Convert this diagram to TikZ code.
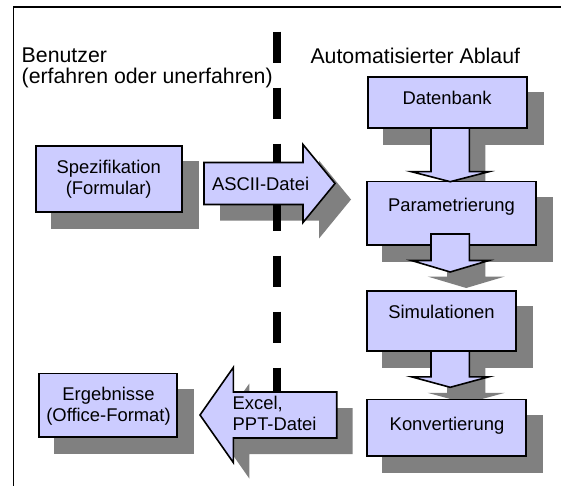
\documentclass[tikz,border=0pt]{standalone}
\usepackage{fontspec}
\setmainfont{Liberation Sans}
\usetikzlibrary{calc}
\definecolor{boxfill}{HTML}{CCCCFF}
\definecolor{shadowgray}{HTML}{808080}
\pgfdeclarelayer{bglayer}
\pgfdeclarelayer{shadowlayer}
\pgfdeclarelayer{dashlayer}
\pgfsetlayers{bglayer,shadowlayer,dashlayer,main}
\tikzset{
  box/.style={draw=black, fill=boxfill, line width=1.6pt, rectangle, inner sep=0pt, outer sep=0pt, anchor=north west},
  blockarrow/.style={draw=black, fill=boxfill, line width=1.6pt},
  shadowfill/.style={fill=shadowgray, transform canvas={xshift=16pt,yshift=-16pt}},
  txt/.style={font=\fontsize{18.4}{21}\selectfont, inner sep=0pt, outer sep=0pt},
  hdr/.style={font=\fontsize{21.3}{21}\selectfont, inner sep=0pt, outer sep=0pt, align=left, anchor=base west},
  dashline/.style={line width=7.7pt, dash pattern=on 31pt off 25pt, black},
  frameline/.style={line width=1.6pt, black}
}
% horizontal block arrow: start, tip, head-base offset, shaft half height, head half height
\newcommand\blockarrowH[5]{%
  \begin{pgfonlayer}{shadowlayer}
    \fill[shadowfill] ($(#1)+(0,-#4)$) -- ($(#2)+(#3,-#4)$) -- ($(#2)+(#3,-#5)$) -- (#2) -- ($(#2)+(#3,#5)$) -- ($(#2)+(#3,#4)$) -- ($(#1)+(0,#4)$) -- cycle;
  \end{pgfonlayer}
  \filldraw[blockarrow] ($(#1)+(0,-#4)$) -- ($(#2)+(#3,-#4)$) -- ($(#2)+(#3,-#5)$) -- (#2) -- ($(#2)+(#3,#5)$) -- ($(#2)+(#3,#4)$) -- ($(#1)+(0,#4)$) -- cycle;
}
% vertical block arrow: start, tip, head-base offset, shaft half width, head half width
\newcommand\blockarrowV[5]{%
  \begin{pgfonlayer}{shadowlayer}
    \fill[shadowfill] ($(#1)+(-#4,0)$) -- ($(#2)+(-#4,#3)$) -- ($(#2)+(-#5,#3)$) -- (#2) -- ($(#2)+(#5,#3)$) -- ($(#2)+(#4,#3)$) -- ($(#1)+(#4,0)$) -- cycle;
  \end{pgfonlayer}
  \filldraw[blockarrow] ($(#1)+(-#4,0)$) -- ($(#2)+(-#4,#3)$) -- ($(#2)+(-#5,#3)$) -- (#2) -- ($(#2)+(#5,#3)$) -- ($(#2)+(#4,#3)$) -- ($(#1)+(#4,0)$) -- cycle;
}
\newcommand\boxshadow[1]{%
  \begin{pgfonlayer}{shadowlayer}
    \fill[shadowfill] ([shift={(-0.8pt,-0.8pt)}]#1.south west) rectangle ([shift={(0.8pt,0.8pt)}]#1.north east);
  \end{pgfonlayer}
}
\begin{document}
\begin{tikzpicture}[x=1pt, y=-1pt]
\useasboundingbox (0,0) rectangle (561,486);
\begin{pgfonlayer}{bglayer}
  \fill[white] (0,0) rectangle (561,486);
\end{pgfonlayer}

% frame
\coordinate (fbl) at (13.3,486);
\coordinate (ftl) at (13.3,7.3);
\coordinate (ftr) at (561,7.3);
\draw[frameline] (fbl) -- (ftl) -- (ftr);

% headings (base anchor = baseline of last line)
\node[hdr] (user) at (21.7,83.3) {Benutzer\\(erfahren oder unerfahren)};
\node[hdr] (auto) at (310.5,63.3) {Automatisierter Ablauf};

% dashed divider
\coordinate (dtop) at (277.2,31.7);
\coordinate (dbot) at (277.2,400);
\begin{pgfonlayer}{dashlayer}
  \draw[dashline] (dtop) -- (dbot);
\end{pgfonlayer}

% boxes
\node[box, minimum width=146pt, minimum height=65.7pt] (spez) at (35.7,146) {};
\node[box, minimum width=137.7pt, minimum height=63.4pt] (erg) at (39,373.3) {};
\node[box, minimum width=158.7pt, minimum height=51pt] (db) at (368,77) {};
\node[box, minimum width=169.3pt, minimum height=63.3pt] (par) at (366.7,181.7) {};
\node[box, minimum width=149pt, minimum height=60.3pt] (sim) at (366.7,290.7) {};
\node[box, minimum width=159pt, minimum height=56.7pt] (konv) at (366.7,399.3) {};
\boxshadow{spez}
\boxshadow{erg}
\boxshadow{db}
\boxshadow{par}
\boxshadow{sim}
\boxshadow{konv}

% box texts
\node[txt, align=center, anchor=base] (spezt) at (108.7,195) {Spezifikation\\(Formular)};
\node[txt, align=center, anchor=base] (ergt) at (108.5,421) {Ergebnisse\\(Office-Format)};
\node[txt, anchor=base] (dbt) at (447,105) {Datenbank};
\node[txt, anchor=base] (part) at (451.5,211.7) {Parametrierung};
\node[txt, anchor=base] (simt) at (441.5,318.3) {Simulationen};
\node[txt, anchor=base] (konvt) at (447,430) {Konvertierung};

% vertical connectors (block arrows)
\coordinate (col) at (450.2,0);
\coordinate (a1s) at (col |- db.south);
\coordinate (a1t) at (col |- par.north);
\coordinate (a2s) at ([yshift=11pt]col |- par.south);
\coordinate (a2t) at ([yshift=18.7pt]col |- sim.north);
\coordinate (a3s) at (col |- sim.south);
\coordinate (a3t) at ([yshift=12pt]col |- konv.north);
\blockarrowV{a1s}{a1t}{-10}{19.2}{38.7}
\blockarrowV{a2s}{a2t}{-11.5}{19.2}{38.7}
\blockarrowV{a3s}{a3t}{-10.5}{19.2}{38.7}

% horizontal connectors
\coordinate (ascs) at (204,183.5);
\coordinate (asct) at (335,183.5);
\blockarrowH{ascs}{asct}{-32}{21}{39}
\node[txt, anchor=base west] (asctxt) at (212,190) {ASCII-Datei};

\coordinate (xls) at (336.7,415);
\coordinate (xlt) at (200,415);
\blockarrowH{xls}{xlt}{33.3}{23}{47.5}
\node[txt, anchor=base west, align=left, font=\fontsize{18.4}{20.2}\selectfont] (xltxt) at (232.7,430) {Excel,\\PPT-Datei};
\end{tikzpicture}
\end{document}
